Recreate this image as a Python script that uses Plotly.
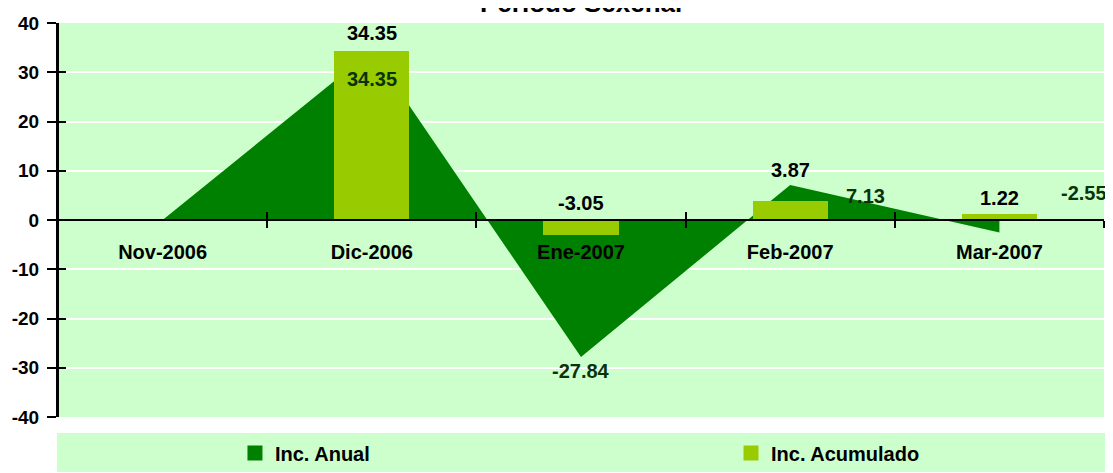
import plotly.graph_objects as go

# ---- data ----
categories = ["Nov-2006", "Dic-2006", "Ene-2007", "Feb-2007", "Mar-2007"]
inc_anual = [0, 34.35, -27.84, 7.13, -2.55]
inc_acumulado = [None, 34.35, -3.05, 3.87, 1.22]
y_ticks = [-40, -30, -20, -10, 0, 10, 20, 30, 40]
title_text = "Periodo Sexenal"
series_names = ["Inc. Anual", "Inc. Acumulado"]

# ---- style ----
FONT = "Arial, 'Liberation Sans', sans-serif"
C_AREA = "#008000"
C_BAR = "#99CC00"
C_BG = "#CCFFCC"
C_AREA_LBL = "#0A330A"
FS = 20

# label offsets (px) taken from the reference's label placement
bar_lbl_shift = [None, 18, 17, 31, 16]
area_lbl_shift = [None, (0, -28), (0, -14), (75, -11), (85, 40)]

fig = go.Figure()

# area (main subplot, drawn below the bars)
fig.add_trace(go.Scatter(
    x=categories, y=inc_anual, mode="lines", fill="tozeroy",
    line=dict(width=0, color=C_AREA), fillcolor=C_AREA,
    name=series_names[0], legendgroup="a", showlegend=False,
    xaxis="x", yaxis="y", hoverinfo="x+y",
))
# bars (overlay subplot so they sit on top of the area)
fig.add_trace(go.Bar(
    x=categories, y=inc_acumulado, width=0.36, marker=dict(color=C_BAR, line=dict(width=0)),
    name=series_names[1], legendgroup="b", showlegend=False,
    xaxis="x2", yaxis="y2",
))
# legend entries (square swatches), one legend each
fig.add_trace(go.Scatter(x=[None], y=[None], mode="markers",
                         marker=dict(symbol="square", size=15, color=C_AREA),
                         name=series_names[0], legendgroup="a", legend="legend"))
fig.add_trace(go.Scatter(x=[None], y=[None], mode="markers",
                         marker=dict(symbol="square", size=15, color=C_BAR),
                         name=series_names[1], legendgroup="b", legend="legend2"))

annotations = []
for i, (c, v) in enumerate(zip(categories, inc_acumulado)):
    if v is None:
        continue
    annotations.append(dict(
        x=c, y=max(v, 0), xref="x", yref="y", text=f"{v:.2f}", showarrow=False,
        xanchor="center", yanchor="middle", yshift=bar_lbl_shift[i],
        font=dict(family=FONT, size=FS, color="#000000", weight="bold"),
    ))
for i, (c, v) in enumerate(zip(categories, inc_anual)):
    if area_lbl_shift[i] is None:
        continue
    dx, dy = area_lbl_shift[i]
    annotations.append(dict(
        x=c, y=v, xref="x", yref="y", text=f"{v:.2f}", showarrow=False,
        xanchor="center", yanchor="middle", xshift=dx, yshift=dy,
        font=dict(family=FONT, size=FS, color=C_AREA_LBL, weight="bold"),
    ))
annotations.append(dict(
    x=0.5, y=1, xref="paper", yref="paper", text=title_text, showarrow=False,
    xanchor="center", yanchor="bottom", yshift=3,
    font=dict(family=FONT, size=26, color="#000000", weight="bold"),
))

legend_common = dict(
    orientation="h", xref="container", yref="container",
    xanchor="left", y=0.043, yanchor="middle",
    bgcolor="rgba(0,0,0,0)", borderwidth=0, itemsizing="trace",
    font=dict(family=FONT, size=FS, color="#000000", weight="bold"),
)

# the page body has an 8px margin, so the figure is sized/offset to compensate
fig.update_layout(
    width=1105, height=465, autosize=False,
    margin=dict(l=50, r=9, t=15, b=56, pad=0, autoexpand=False),
    paper_bgcolor="white", plot_bgcolor=C_BG,
    font=dict(family=FONT, size=FS, color="#000000", weight="bold"),
    showlegend=True,
    legend=dict(x=0.2054, **legend_common),
    legend2=dict(x=0.6543, **legend_common),
    xaxis=dict(
        type="category", categoryorder="array", categoryarray=categories,
        range=[-0.5, 4.5], anchor="free", position=0.5, automargin=False,
        showline=True, linecolor="black", linewidth=2,
        ticks="outside", ticklen=7, tickwidth=2, tickcolor="black",
        tickson="boundaries", showgrid=False, zeroline=False,
        ticklabelstandoff=14, fixedrange=True,
        tickfont=dict(family=FONT, size=FS, color="#000000", weight="bold"),
    ),
    yaxis=dict(
        range=[-40, 40], tickvals=y_ticks, ticktext=[str(t) for t in y_ticks],
        showline=True, linecolor="black", linewidth=2, automargin=False,
        ticks="outside", ticklen=9, tickwidth=2, tickcolor="black",
        showgrid=True, gridcolor="white", gridwidth=2, zeroline=False,
        ticklabelstandoff=4, fixedrange=True,
        tickfont=dict(family=FONT, size=19, color="#000000", weight="bold"),
    ),
    xaxis2=dict(
        type="category", categoryorder="array", categoryarray=categories,
        range=[-0.5, 4.5], overlaying="x", anchor="free", position=0.5,
        showline=True, linecolor="black", linewidth=2, automargin=False,
        ticks="inside", ticklen=7, tickwidth=2, tickcolor="black",
        tickson="boundaries", showgrid=False, zeroline=False,
        showticklabels=False, fixedrange=True,
    ),
    yaxis2=dict(
        range=[-40, 40], tickvals=y_ticks, overlaying="y", anchor="free", position=0,
        side="left", showline=True, linecolor="black", linewidth=2,
        ticks="inside", ticklen=7, tickwidth=2,
        tickcolor="black", showgrid=False, zeroline=False, showticklabels=False,
        fixedrange=True, automargin=False,
    ),
    bargap=0, annotations=annotations,
    shapes=[dict(
        type="rect", xref="paper", yref="paper",
        x0=-0.001, x1=1.003, y0=-0.1396, y1=-0.0406,
        fillcolor=C_BG, line=dict(width=0), layer="below",
    )],
)

fig.write_html("out.html")
